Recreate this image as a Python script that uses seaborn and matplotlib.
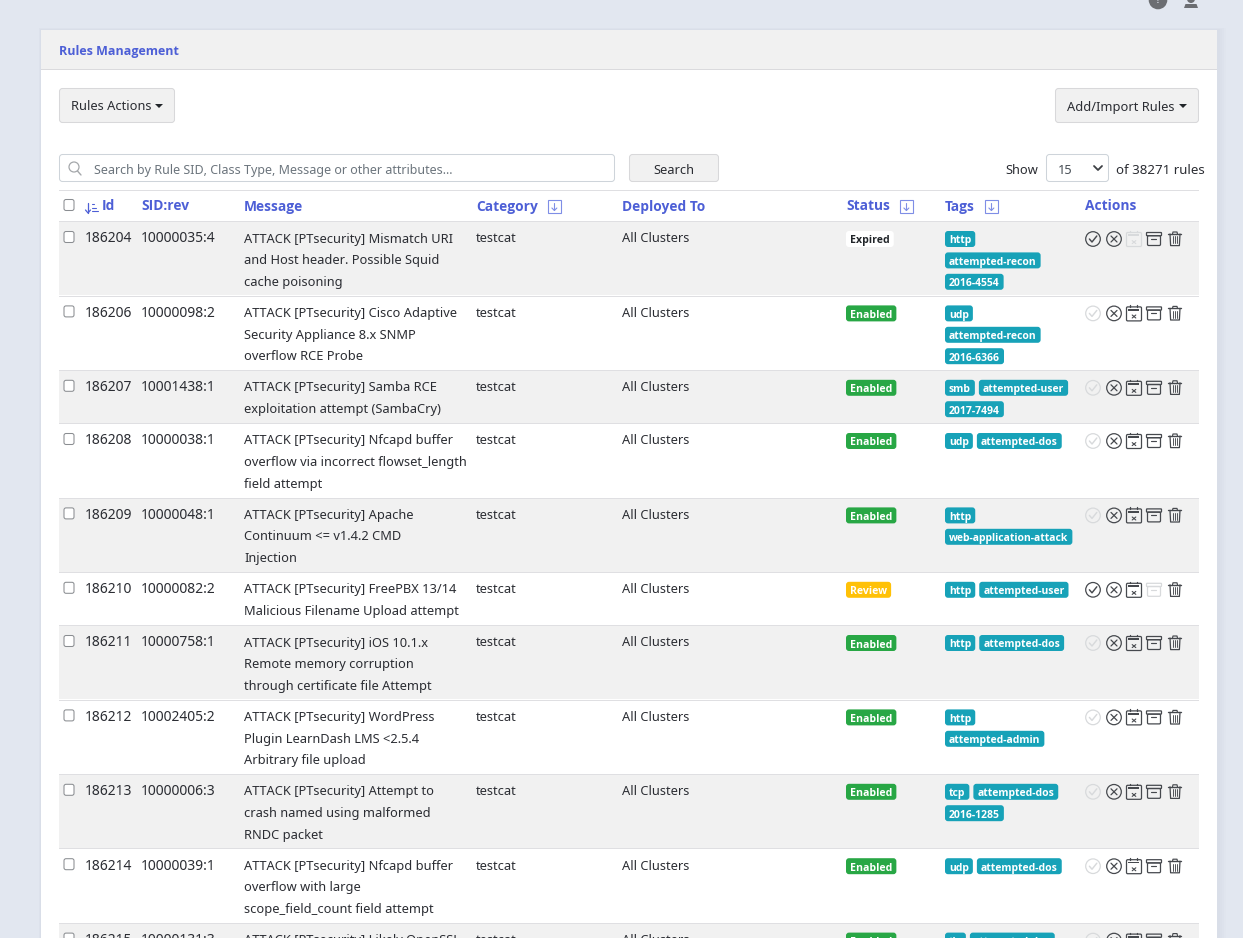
import matplotlib
matplotlib.use("Agg")
import matplotlib.pyplot as plt
from matplotlib.patches import FancyBboxPatch, Rectangle, Circle, Polygon
import seaborn as sns

sns.set_theme(style="white")
plt.rcParams['font.family'] = ['Noto Sans', 'DejaVu Sans']

ids = [186204, 186206, 186207, 186208, 186209, 186210, 186211, 186212, 186213, 186214, 186215]
sids = ["10000035:4", "10000098:2", "10001438:1", "10000038:1", "10000048:1", "10000082:2",
        "10000758:1", "10002405:2", "10000006:3", "10000039:1", "10000131:3"]
messages = [
    ["ATTACK [PTsecurity] Mismatch URI", "and Host header. Possible Squid", "cache poisoning"],
    ["ATTACK [PTsecurity] Cisco Adaptive", "Security Appliance 8.x SNMP", "overflow RCE Probe"],
    ["ATTACK [PTsecurity] Samba RCE", "exploitation attempt (SambaCry)"],
    ["ATTACK [PTsecurity] Nfcapd buffer", "overflow via incorrect flowset_length", "field attempt"],
    ["ATTACK [PTsecurity] Apache", "Continuum <= v1.4.2 CMD", "Injection"],
    ["ATTACK [PTsecurity] FreePBX 13/14", "Malicious Filename Upload attempt"],
    ["ATTACK [PTsecurity] iOS 10.1.x", "Remote memory corruption", "through certificate file Attempt"],
    ["ATTACK [PTsecurity] WordPress", "Plugin LearnDash LMS <2.5.4", "Arbitrary file upload"],
    ["ATTACK [PTsecurity] Attempt to", "crash named using malformed", "RNDC packet"],
    ["ATTACK [PTsecurity] Nfcapd buffer", "overflow with large", "scope_field_count field attempt"],
    ["ATTACK [PTsecurity] Likely OpenSSL", "", ""],
]
categories = ["testcat"] * 11
deployed = ["All Clusters"] * 11
statuses = ["Expired", "Enabled", "Enabled", "Enabled", "Enabled", "Review",
            "Enabled", "Enabled", "Enabled", "Enabled", "Enabled"]
tags = [
    [["http"], ["attempted-recon"], ["2016-4554"]],
    [["udp"], ["attempted-recon"], ["2016-6366"]],
    [["smb", "attempted-user"], ["2017-7494"]],
    [["udp", "attempted-dos"]],
    [["http"], ["web-application-attack"]],
    [["http", "attempted-user"]],
    [["http", "attempted-dos"]],
    [["http"], ["attempted-admin"]],
    [["tcp", "attempted-dos"], ["2016-1285"]],
    [["udp", "attempted-dos"]],
    [["tls", "attempted-dos"]],
]
columns = ["Id", "SID:rev", "Message", "Category", "Deployed To", "Status", "Tags", "Actions"]
column_x = [102, 141, 244, 476, 622, 846, 945, 1085]
filterable = ["Category", "Status", "Tags"]
disabled_action = {"Expired": "calendar", "Enabled": "check", "Review": "archive"}

BG = "#e2e7f0"
STRIPE = "#f1f1f1"
LINE = "#dfdfe2"
BLUE = "#4d5fd6"
INK = "#2b2d33"
ICON = "#46494e"
OFF = "#d8dadc"
BADGE = {"Enabled": ("#28a745", "white"), "Review": ("#ffc107", "white"), "Expired": ("white", "#212529")}
TEAL = "#17a2b8"
FS = 9.25
BOLD = ['Open Sans', 'DejaVu Sans']

fig = plt.figure(figsize=(12.43, 9.38), dpi=100, facecolor=BG)
ax = fig.add_axes([0, 0, 1, 1])
ax.set_xlim(0, 1243)
ax.set_ylim(938, 0)
ax.axis("off")
sns.despine(ax=ax, left=True, bottom=True)


def rect(x0, y0, x1, y1, fc, ec="none", lw=0, z=1):
    ax.add_patch(Rectangle((x0, y0), x1 - x0, y1 - y0, fc=fc, ec=ec, lw=lw, zorder=z))


def rbox(x0, y0, x1, y1, fc, ec="none", lw=0, r=3, z=3):
    ax.add_patch(FancyBboxPatch((x0 + r, y0 + r), x1 - x0 - 2 * r, y1 - y0 - 2 * r,
                                boxstyle=f"round,pad={r},rounding_size={r}",
                                fc=fc, ec=ec, lw=lw, zorder=z, mutation_aspect=1))


def label(x, y, s, color=INK, size=FS, weight="normal", ha="left", z=5):
    fam = BOLD if weight == "bold" else ['Noto Sans', 'DejaVu Sans']
    return ax.text(x, y + 4.5, s, color=color, fontsize=size, fontweight=weight,
                   family=fam, ha=ha, va="baseline", zorder=z)


def seg(xs, ys, c, lw=0.95, z=6):
    ax.plot(xs, ys, color=c, lw=lw, zorder=z, solid_capstyle="round")


def caret(x, y):
    ax.add_patch(Polygon([(x, y), (x + 8, y), (x + 4, y + 4)], fc="#212529", ec="none", zorder=5))


def checkbox(y):
    rbox(64, y - 5.5, 74, y + 5.5, "white", "#8a8d91", 0.75, r=2)


def icon_check(x, y, c):
    ax.add_patch(Circle((x, y), 7.3, fc="none", ec=c, lw=0.9, zorder=6))
    seg([x - 3.6, x - 1, x + 3.8], [y, y + 3, y - 3], c, 1.05)


def icon_x(x, y, c):
    ax.add_patch(Circle((x, y), 7.3, fc="none", ec=c, lw=0.9, zorder=6))
    seg([x - 3, x + 3], [y - 3, y + 3], c, 0.9)
    seg([x - 3, x + 3], [y + 3, y - 3], c, 0.9)


def icon_calendar(x, y, c):
    rbox(x - 7.5, y - 6.5, x + 7.5, y + 7.5, "none", c, 0.9, r=1.2, z=6)
    rect(x - 5.5, y - 4.5, x + 5.5, y - 2.8, c, z=6)
    seg([x - 3.5, x - 3.5], [y - 8, y - 6.5], c)
    seg([x + 3.5, x + 3.5], [y - 8, y - 6.5], c)
    seg([x - 1.8, x + 1.8], [y + 1.6, y + 4.6], c, 0.8)
    seg([x - 1.8, x + 1.8], [y + 4.6, y + 1.6], c, 0.8)


def icon_archive(x, y, c):
    rbox(x - 7.5, y - 6.5, x + 7.5, y - 3.3, "none", c, 0.9, r=0.6, z=6)
    rbox(x - 6.5, y - 3.3, x + 6.5, y + 6.5, "none", c, 0.9, r=1.2, z=6)
    seg([x - 2.5, x + 2.5], [y, y], c, 0.85)


def icon_trash(x, y, c):
    seg([x - 6.5, x + 6.5], [y - 5, y - 5], c, 1.0)
    seg([x - 2.5, x - 2, x + 2, x + 2.5], [y - 5, y - 7, y - 7, y - 5], c, 0.85)
    seg([x - 5, x - 4.4, x + 4.4, x + 5], [y - 5, y + 6.6, y + 6.6, y - 5], c, 0.9)
    for dx in (-2.2, 0, 2.2):
        seg([x + dx, x + dx], [y - 2.5, y + 4.5], c, 0.65)


ACTIONS = [("check", 1093, icon_check), ("x", 1114, icon_x), ("calendar", 1134, icon_calendar),
           ("archive", 1154, icon_archive), ("trash", 1175, icon_trash)]


def filter_icon(x, y):
    ax.add_patch(Rectangle((x, y), 13, 13, fc="none", ec="#7f8ee6", lw=0.8, zorder=5))
    seg([x + 6.5, x + 6.5], [y + 3, y + 10], "#7f8ee6", 0.8)
    seg([x + 4, x + 6.5, x + 9], [y + 7.5, y + 10, y + 7.5], "#7f8ee6", 0.8)


# page chrome
ax.add_patch(Circle((1158, 0), 9.3, fc="#6c6e72", ec="none", zorder=2))
ax.text(1158, 3, "?", color="#e2e7f0", fontsize=8, fontweight="bold", ha="center", va="baseline", zorder=3)
ax.add_patch(Circle((1191, -1), 4, fc="#6c6e72", ec="none", zorder=2))
ax.add_patch(Polygon([(1184, 8), (1185.5, 4), (1196.5, 4), (1198, 8)], fc="#6c6e72", ec="none", zorder=2))
for i, a in enumerate([0.2, 0.3, 0.4, 0.5]):
    rect(41 - 2 + i * 0.5, 30 - 2 + i * 0.5, 1217 + 9 - 2 * i, 950, "#d9dee8", z=0.5 + i * 0.01)
    ax.patches[-1].set_alpha(a)
rect(41, 30, 1217, 950, "white", z=1)
rect(41, 30, 1217, 69, STRIPE, z=1.2)
rect(41, 69, 1217, 70, "#dadadd", z=1.3)
label(59, 50, "Rules Management", BLUE, 9.0, "bold")

# toolbar
rbox(59.5, 88.5, 174.5, 122.5, STRIPE, "#d8d8da", 0.75)
label(71, 106, "Rules Actions")
caret(155, 104)
rbox(1055.5, 88.5, 1198.5, 122.5, STRIPE, "#d8d8da", 0.75)
label(1067, 106, "Add/Import Rules")
caret(1179, 104)
rbox(59.5, 154.5, 614.5, 181.5, "white", "#ced4da", 0.75)
ax.add_patch(Circle((74, 167), 5, fc="none", ec="#a5a8ab", lw=0.9, zorder=6))
seg([77.5, 81], [171, 175], "#a5a8ab", 1.0)
label(94, 169.5, "Search by Rule SID, Class Type, Message or other attributes...", "#6c757d", 9.0)
rbox(629.5, 154.5, 718.5, 181.5, STRIPE, "#d8d8da", 0.75)
label(674, 169, "Search", ha="center")
label(1005, 169, "Show")
rbox(1046.5, 154.5, 1108.5, 181.5, "white", "#ced4da", 0.75)
label(1058, 170, "15", "#495057")
seg([1094, 1098, 1102], [166, 170, 166], "#3c3f44", 1.3)
label(1116, 169, "of 38271 rules", size=9.55)

# header row
rect(59, 190, 1199, 191, LINE, z=2)
checkbox(205)
renderer = fig.canvas.get_renderer()
for name, x in zip(columns, column_x):
    t = label(x, 206, name, BLUE, 9.9, "bold")
    if name in filterable:
        filter_icon(x + t.get_window_extent(renderer).width + 10, 200.5)
seg([88, 88], [203, 213], BLUE, 0.9)
seg([85.5, 88, 90.5], [210, 213, 210], BLUE, 0.9)
for i, w in enumerate([2.5, 4.5, 6.5]):
    seg([92, 92 + w], [204 + i * 3.6, 204 + i * 3.6], BLUE, 0.8)

# rows
top = 221.0
for i in range(len(ids)):
    n = len(messages[i])
    h = 74.4 if n == 3 else 53.2
    ytop = round(top + 0.3)
    if i % 2 == 0:
        ax.barh(ytop + h / 2, 1140, height=h, left=59, color=STRIPE, zorder=1.5, linewidth=0)
    rect(59, ytop, 1199, ytop + 1, LINE, z=2)
    cy = top + 17
    checkbox(cy - 1)
    label(85, cy, str(ids[i]), size=10.0)
    label(141, cy, sids[i], size=10.0)
    for k, line in enumerate(messages[i]):
        label(244, cy + k * 21.6, line)
    label(476, cy, categories[i])
    label(622, cy, deployed[i])

    fc, tc = BADGE[statuses[i]]
    t = label(850, cy + 1, statuses[i], tc, 7.6, "bold")
    w = t.get_window_extent(renderer).width
    rbox(846, cy - 7, 854 + w, cy + 9, fc, r=3)

    for k, tag_line in enumerate(tags[i]):
        x = 945
        ty = cy + 1 + k * 21.4
        for tag in tag_line:
            t = label(x + 4, ty, tag, "white", 7.45, "bold")
            w = t.get_window_extent(renderer).width
            rbox(x, ty - 8, x + w + 8, ty + 8, TEAL, r=3)
            x += w + 8 + 4

    for name, x, draw in ACTIONS:
        draw(x, cy + 1, OFF if disabled_action[statuses[i]] == name else ICON)
    top += h

fig.savefig("out.png", dpi=100, facecolor=BG)
